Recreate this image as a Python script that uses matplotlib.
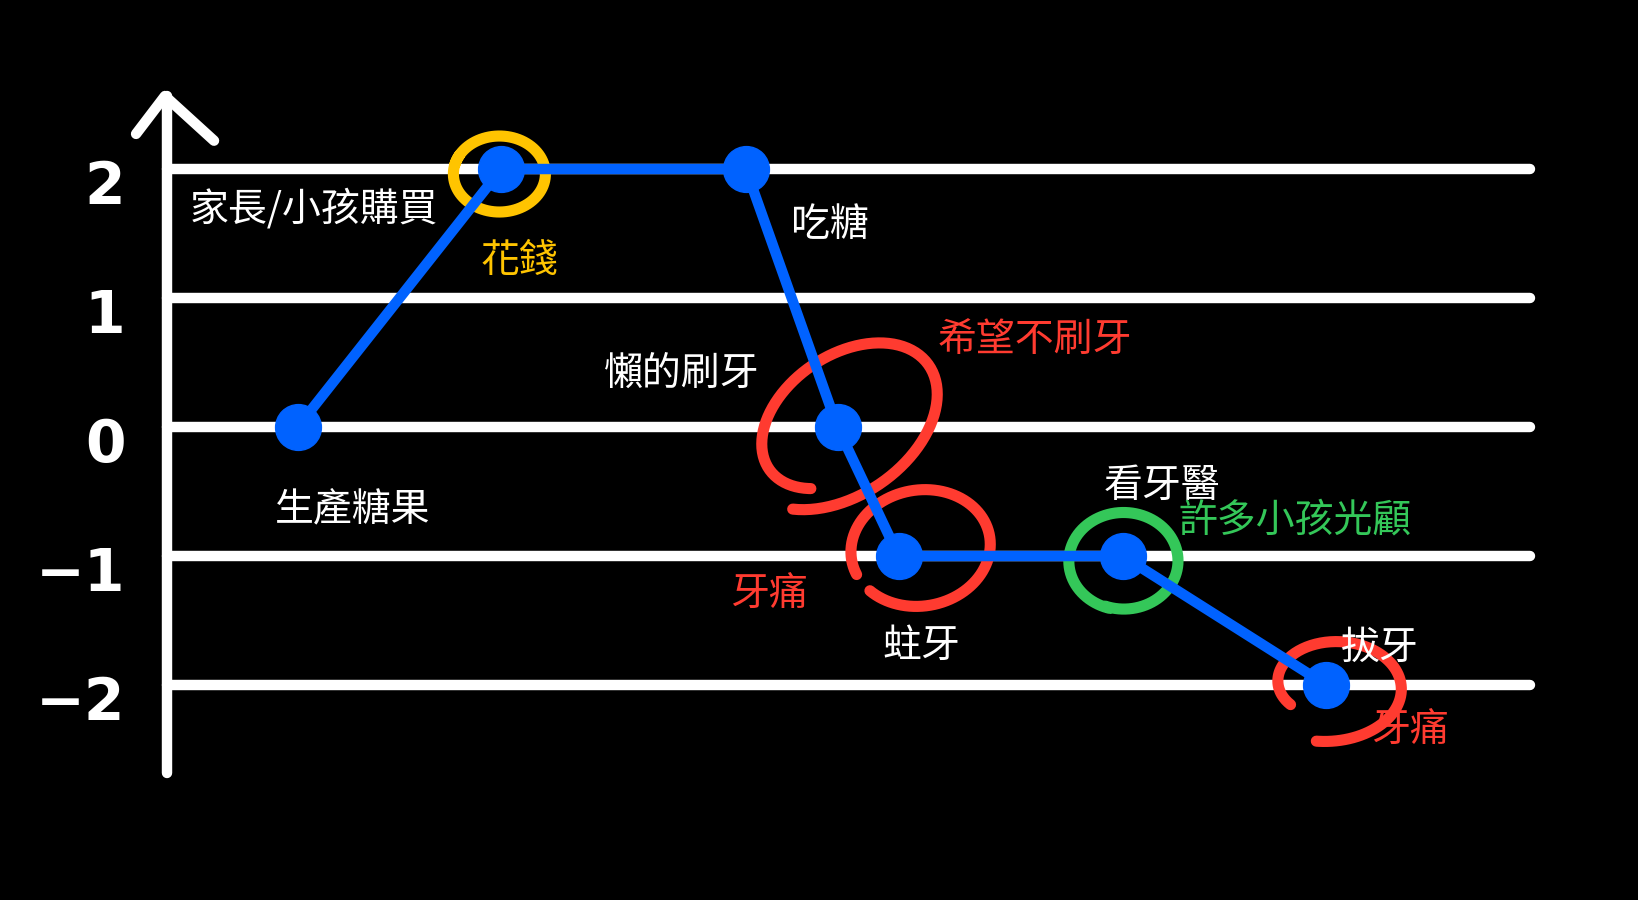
import numpy as np
import matplotlib.pyplot as plt
from matplotlib.transforms import ScaledTranslation

plt.rcParams['font.family'] = ['Noto Sans CJK TC', 'DejaVu Sans']

# 故事的步驟 (x) 和心情/分數 (y)
step = [1.0, 2.0, 3.2, 3.65, 3.95, 5.05, 6.05]
level = [0, 2, 2, 0, -1, -1, -2]
y_ticks = [2, 1, 0, -1, -2]
y_tick_labels = ['2', '1', '0', '−1', '−2']

BLUE = '#0062ff'
RED = '#ff3b30'
GREEN = '#34c759'
YELLOW = '#ffc400'

# (point index, text, colour, dx px, dy px)
notes = [
    (0, '生產糖果', 'white', 55, -82),
    (1, '家長/小孩購買', 'white', -188, -40),
    (1, '花錢', YELLOW, 18, -92),
    (2, '吃糖', 'white', 84, -56),
    (3, '懶的刷牙', 'white', -156, 53),
    (3, '希望不刷牙', RED, 197, 87),
    (4, '牙痛', RED, -130, -39),
    (4, '蛀牙', 'white', 23, -90),
    (5, '看牙醫', 'white', 39, 70),
    (5, '許多小孩光顧', GREEN, 172, 36),
    (6, '拔牙', 'white', 53, 37),
    (6, '牙痛', RED, 84, -46),
]

# hand drawn rings: (point index, dx, dy, rx, ry, rot, start, sweep, scale0, scale1, colour)
rings = [
    (1, -2, -5, 46, 38, 0, 150, 375, 1.0, 1.0, YELLOW),
    (3, 6, 6, 90, 60, 35, 215, 365, 1.25, 0.95, RED),
    (4, 22, 8, 70, 58, 10, 215, 340, 1.0, 1.0, RED),
    (5, 1, -5, 54, 48, 0, 250, 365, 1.0, 1.02, GREEN),
    (6, 4, 0, 54, 38, 0, 215, -315, 0.9, 1.5, RED),
]

fig = plt.figure(figsize=(16.38, 9), dpi=100, facecolor='black')
ax = fig.add_axes([167 / 1638, 127 / 900, 1363 / 1638, 677 / 900])
ax.set_facecolor('black')
ax.set_xlim(0.3584, 7.0496)
ax.set_ylim(-2.682, 2.566)

for s in ['top', 'right', 'bottom']:
    ax.spines[s].set_visible(False)
ax.spines['left'].set_color('white')
ax.spines['left'].set_linewidth(7.5)
ax.spines['left'].set_capstyle('round')

ax.set_xticks([])
ax.set_yticks(y_ticks, y_tick_labels)
ax.tick_params(axis='y', length=0, pad=30, labelsize=42, labelcolor='white')
for lab in ax.get_yticklabels():
    lab.set_fontweight('bold')
    lab.set_family(['DejaVu Sans'])
    lab.set_transform(lab.get_transform() + ScaledTranslation(0, -0.12, fig.dpi_scale_trans))

ax.grid(axis='y', color='white', linewidth=7.5, solid_capstyle='round')
ax.set_axisbelow(True)
for gl in ax.get_ygridlines():
    gl.set_clip_on(False)

# arrow head on top of the y axis
ax.plot([-0.0227, -0.0015, 0.0345], [0.944, 1.0, 0.934], color='white', lw=7.5,
        solid_capstyle='round', solid_joinstyle='round', transform=ax.transAxes,
        clip_on=False)

for i, dx, dy, rx, ry, rot, start, sweep, s0, s1, col in rings:
    t = np.linspace(0, 1, 200)
    th = np.radians(start + sweep * t)
    sc = s0 + (s1 - s0) * t
    ex = rx * sc * np.cos(th)
    ey = ry * sc * np.sin(th)
    a = np.radians(rot)
    px = dx + ex * np.cos(a) - ey * np.sin(a)
    py = dy + ex * np.sin(a) + ey * np.cos(a)
    trans = fig.dpi_scale_trans + ScaledTranslation(step[i], level[i], ax.transData)
    ax.plot(px / 100, py / 100, color=col, lw=8, solid_capstyle='round',
            transform=trans, clip_on=False, zorder=3)

ax.plot(step, level, color=BLUE, lw=7.5, marker='o', markersize=33,
        solid_joinstyle='round', zorder=4, clip_on=False)

for i, txt, col, dx, dy in notes:
    ax.annotate(txt, (step[i], level[i]), xytext=(dx, dy), textcoords='offset pixels',
                ha='center', va='center', color=col, fontsize=28, zorder=5)

fig.savefig('out.png', dpi=100, facecolor='black')
